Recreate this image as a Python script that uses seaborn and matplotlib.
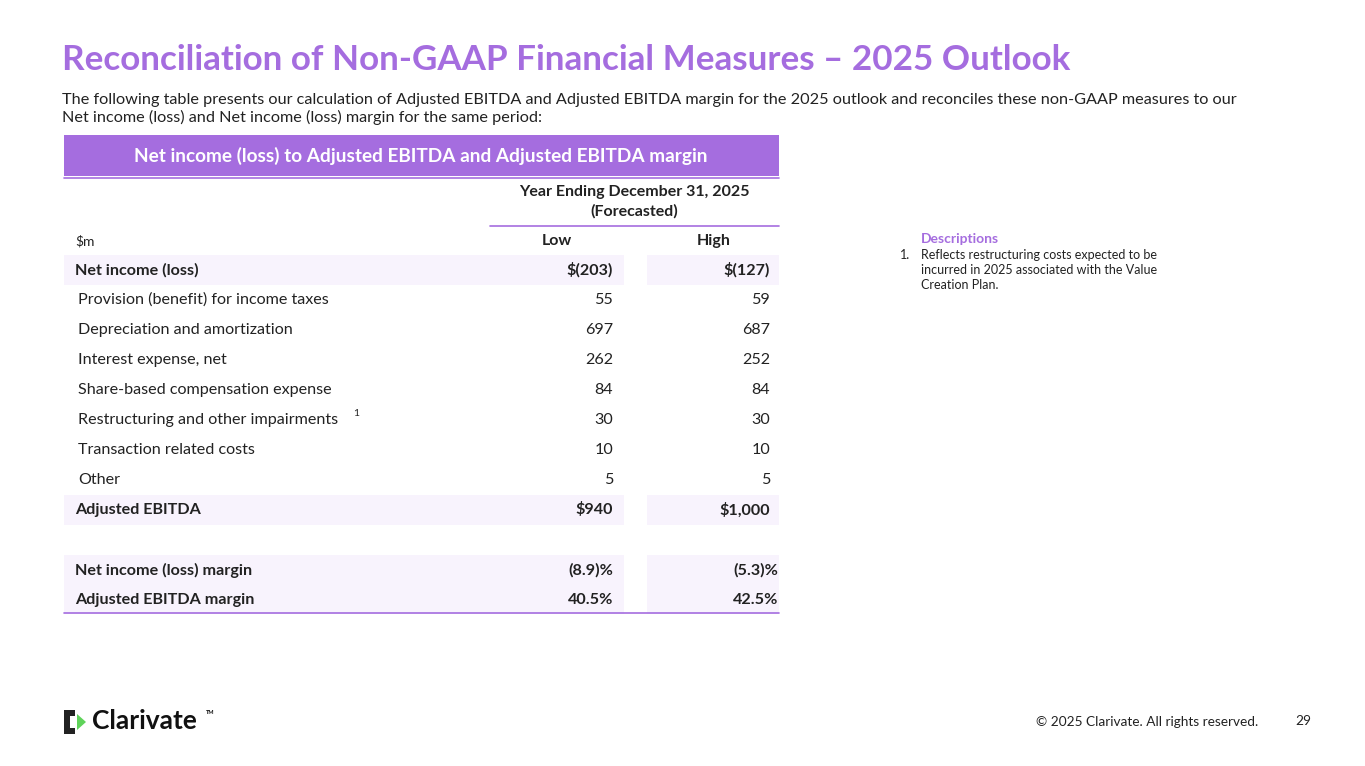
import matplotlib
matplotlib.use("Agg")
import matplotlib.pyplot as plt
import seaborn as sns
from matplotlib.patches import Rectangle, Polygon

sns.set_theme(style="white")
plt.rcParams['font.family'] = ['Lato', 'DejaVu Sans']

PURPLE = '#A56DDF'
BAND = '#F8F3FD'
DARK = '#222222'

row_labels = ['Net income (loss)', 'Provision (benefit) for income taxes', 'Depreciation and amortization',
              'Interest expense, net', 'Share-based compensation expense', 'Restructuring and other impairments',
              'Transaction related costs', 'Other', 'Adjusted EBITDA']
low_vals = ['$(203)', '55', '697', '262', '84', '30', '10', '5', '$940']
high_vals = ['$(127)', '59', '687', '252', '84', '30', '10', '5', '$1,000']
bold_rows = [0, 8]
margin_labels = ['Net income (loss) margin', 'Adjusted EBITDA margin']
margin_low = ['(8.9)%', '40.5%']
margin_high = ['(5.3)%', '42.5%']

fig = plt.figure(figsize=(13.65, 7.66), dpi=100)
ax = fig.add_axes([0, 0, 1, 1])
ax.set_xlim(0, 1365)
ax.set_ylim(766, 0)
ax.axis('off')

ax.text(62, 60, 'Reconciliation of Non-GAAP Financial Measures \u2013 2025 Outlook', color=PURPLE,
        fontsize=25.2, fontweight='bold', va='center')
ax.text(62, 100, 'The following table presents our calculation of Adjusted EBITDA and Adjusted EBITDA margin for the 2025 outlook and reconciles these non-GAAP measures to our',
        fontsize=11.7, color=DARK, va='center')
ax.text(62, 117, 'Net income (loss) and Net income (loss) margin for the same period:', fontsize=11.7, color=DARK, va='center')

# header bar
ax.add_patch(Rectangle((64, 135), 715, 41, color=PURPLE, lw=0))
ax.text(421, 156, 'Net income (loss) to Adjusted EBITDA and Adjusted EBITDA margin', color='white',
        fontsize=13.7, fontweight='bold', ha='center', va='center')
ax.plot([64, 779], [178, 178], color=PURPLE, lw=1.2)
ax.text(634, 192, 'Year Ending December 31, 2025', fontsize=11.5, fontweight='bold', ha='center', va='center', color=DARK)
ax.text(634, 211, '(Forecasted)', fontsize=11.5, fontweight='bold', ha='center', va='center', color=DARK)
ax.plot([490, 779], [226, 226], color=PURPLE, lw=1.2)
ax.text(75, 241, '$m', fontsize=10, va='center', color=DARK)
ax.text(557, 241, 'Low', fontsize=11.5, fontweight='bold', ha='center', va='center', color=DARK)
ax.text(714, 241, 'High', fontsize=11.5, fontweight='bold', ha='center', va='center', color=DARK)

row_h = 30
for i, lab in enumerate(row_labels):
    yc = 270 + i * row_h
    bold = i in bold_rows
    if bold:
        ax.add_patch(Rectangle((64, yc - 15), 715, 30, color=BAND, lw=0))
        ax.add_patch(Rectangle((624, yc - 15), 23, 30, color='white', lw=0))
    x = 75 if bold else 78
    ax.text(x, yc, lab, fontsize=11.6, fontweight='bold' if bold else 'normal', va='center', color=DARK)
    if i == 5:
        ax.text(353, yc - 6, '1', fontsize=7.5, va='center', color=DARK)
    ax.text(613, yc, low_vals[i], fontsize=11.6, fontweight='bold' if bold else 'normal', ha='right', va='center', color=DARK)
    ax.text(770, yc, high_vals[i], fontsize=11.6, fontweight='bold' if bold else 'normal', ha='right', va='center', color=DARK)

ax.add_patch(Rectangle((64, 555), 715, 59, color=BAND, lw=0))
ax.add_patch(Rectangle((624, 555), 23, 59, color='white', lw=0))
for i, lab in enumerate(margin_labels):
    yc = 570 + i * row_h
    ax.text(75, yc, lab, fontsize=11.6, fontweight='bold', va='center', color=DARK)
    ax.text(613, yc, margin_low[i], fontsize=11.6, fontweight='bold', ha='right', va='center', color=DARK)
    ax.text(778, yc, margin_high[i], fontsize=11.6, fontweight='bold', ha='right', va='center', color=DARK)
ax.plot([64, 779], [613, 613], color=PURPLE, lw=1.2)

# descriptions
ax.text(921, 239, 'Descriptions', fontsize=10, fontweight='bold', color=PURPLE, va='center')
ax.text(900, 255, '1.', fontsize=9, color=DARK, va='center')
for j, t in enumerate(['Reflects restructuring costs expected to be',
                       'incurred in 2025 associated with the Value', 'Creation Plan.']):
    ax.text(921, 255 + j * 15, t, fontsize=9, color=DARK, va='center')

# footer
ax.add_patch(Polygon([[64, 710], [75, 710], [75, 716], [70, 716], [70, 728], [75, 728], [75, 734], [64, 734]],
                     color='#222222', lw=0))
ax.add_patch(Polygon([[77, 714], [86, 722], [77, 730]], color='#5FD35A', lw=0))
ax.text(92, 721, 'Clarivate', fontsize=19, fontweight='bold', color='#111111', va='center')
ax.text(206, 712, 'TM', fontsize=4, fontweight='bold', color='#111111', va='center')
ax.text(1258, 722, '\u00a9 2025 Clarivate. All rights reserved.', fontsize=9.8, color=DARK, ha='right', va='center')
ax.text(1295, 721, '29', fontsize=9.8, color=DARK, va='center')

fig.savefig('out.png', dpi=100)
